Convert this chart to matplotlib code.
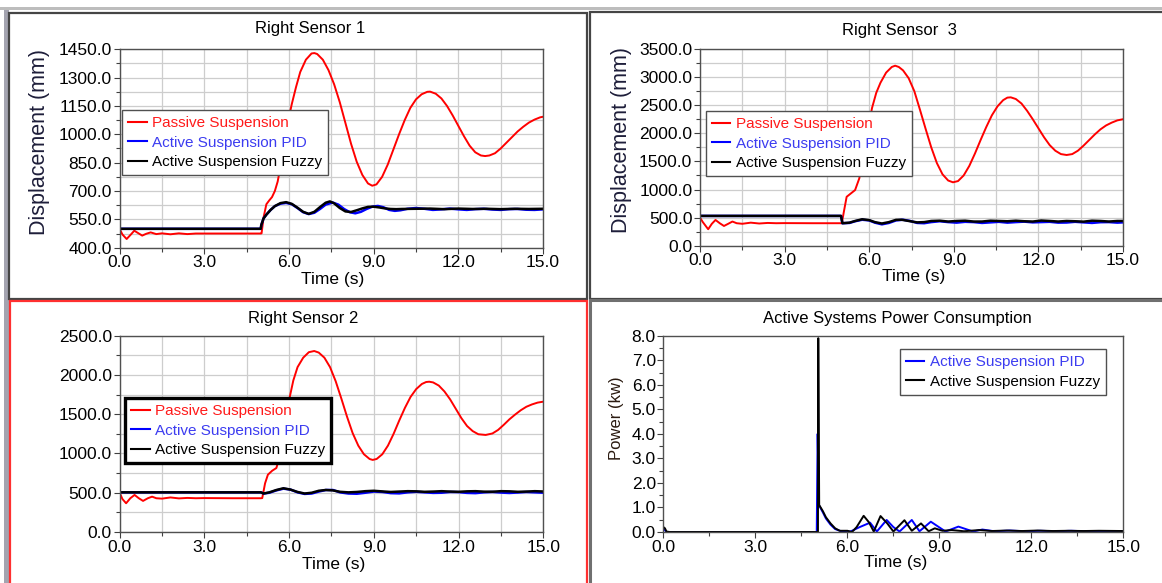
import matplotlib
matplotlib.use("Agg")
import matplotlib.pyplot as plt
from matplotlib.patches import Rectangle
from matplotlib.ticker import MultipleLocator, FormatStrFormatter

plt.rcParams["font.family"] = ["Liberation Sans", "DejaVu Sans"]

W, H = 1162, 583

# ---------------- data ----------------
# Right Sensor 1
s1_passive_t = [0.0, 0.1, 0.25, 0.4, 0.52, 0.65, 0.8, 0.95, 1.1, 1.3, 1.5, 1.8, 2.1, 2.4, 2.7,
                3.0, 4.0, 5.0, 5.03, 5.1, 5.2, 5.3, 5.4, 5.5, 5.6, 5.7, 5.8, 5.9, 6.0, 6.1,
                6.25, 6.4, 6.6, 6.8, 6.9, 7.0, 7.2, 7.4, 7.6, 7.8, 8.0, 8.2, 8.4, 8.6, 8.8,
                8.95, 9.1, 9.3, 9.5, 9.7, 9.9, 10.1, 10.3, 10.5, 10.7, 10.9, 11.0, 11.2,
                11.4, 11.6, 11.8, 12.0, 12.2, 12.4, 12.6, 12.8, 12.95, 13.1, 13.3, 13.5,
                13.7, 13.9, 14.1, 14.3, 14.5, 14.7, 14.9, 15.0]
s1_passive = [500, 470, 446, 470, 490, 478, 464, 474, 481, 472, 476, 471, 476, 472, 475,
              475, 475, 475, 476, 560, 630, 650, 668, 700, 750, 830, 920, 1010, 1090, 1160,
              1250, 1330, 1395, 1428, 1430, 1425, 1395, 1340, 1265, 1170, 1060, 950, 855, 785, 740,
              728, 735, 775, 840, 920, 1000, 1075, 1140, 1185, 1212, 1225, 1226, 1215,
              1190, 1150, 1100, 1045, 990, 940, 905, 888, 885, 888, 900, 925,
              955, 985, 1015, 1040, 1062, 1078, 1090, 1093]
s1_pid_t = [0.0, 5.0, 5.02, 5.1, 5.2, 5.35, 5.5, 5.7, 5.9, 6.1, 6.3, 6.5, 6.7, 6.9, 7.1, 7.3,
            7.55, 7.75, 7.95, 8.15, 8.35, 8.55, 8.75, 8.95, 9.15, 9.35, 9.55, 9.75, 9.95,
            10.2, 10.5, 10.8, 11.1, 11.4, 11.7, 12.0, 12.3, 12.6, 12.9, 13.2, 13.5, 13.8,
            14.1, 14.4, 14.7, 15.0]
s1_pid = [500, 500, 520, 555, 575, 600, 620, 633, 637, 630, 610, 588, 578, 585, 605, 628,
          639, 628, 605, 588, 582, 590, 605, 617, 621, 614, 600, 595, 598,
          606, 610, 606, 600, 603, 607, 603, 600, 604, 606, 602, 600, 604,
          605, 601, 600, 603]
s1_fuzzy_t = [0.0, 5.0, 5.02, 5.1, 5.2, 5.35, 5.5, 5.7, 5.9, 6.1, 6.3, 6.5, 6.7, 6.9, 7.1,
              7.3, 7.45, 7.6, 7.8, 8.0, 8.2, 8.4, 8.6, 8.8, 9.0, 9.2, 9.4, 9.6, 9.8, 10.0,
              10.5, 11.0, 11.5, 12.0, 12.5, 13.0, 13.5, 14.0, 14.5, 15.0]
s1_fuzzy = [500, 500, 520, 555, 575, 600, 620, 636, 641, 632, 612, 590, 579, 590, 615,
            638, 645, 635, 610, 592, 589, 598, 608, 616, 617, 613, 608, 605, 604, 605,
            606, 607, 604, 607, 605, 606, 604, 606, 605, 606]

# Right Sensor 3
s3_passive_t = [0.0, 0.1, 0.29, 0.42, 0.55, 0.7, 0.85, 1.0, 1.15, 1.3, 1.5, 1.8, 2.1, 2.4, 2.7,
                3.0, 4.0, 5.0, 5.03, 5.1, 5.2, 5.35, 5.5, 5.65, 5.8, 5.95, 6.1, 6.25, 6.4,
                6.6, 6.8, 6.92, 7.05, 7.2, 7.4, 7.6, 7.8, 8.0, 8.2, 8.4, 8.6, 8.8, 8.97,
                9.15, 9.35, 9.55, 9.75, 9.95, 10.15, 10.35, 10.55, 10.75, 10.9, 11.02, 11.2,
                11.4, 11.6, 11.8, 12.0, 12.2, 12.4, 12.6, 12.8, 13.0, 13.2, 13.4, 13.6, 13.8,
                14.0, 14.2, 14.4, 14.6, 14.8, 15.0]
s3_passive = [500, 420, 293, 390, 458, 400, 351, 390, 430, 400, 390, 410, 395, 405, 400,
              402, 400, 400, 402, 600, 870, 930, 990, 1200, 1650, 2050, 2450, 2720, 2900,
              3080, 3180, 3203, 3180, 3120, 2980, 2750, 2420, 2080, 1750, 1470, 1270, 1160, 1128,
              1150, 1250, 1420, 1640, 1880, 2110, 2320, 2480, 2590, 2635, 2640, 2610,
              2530, 2400, 2250, 2090, 1930, 1790, 1690, 1630, 1614, 1630, 1690, 1780, 1880,
              1980, 2070, 2140, 2190, 2230, 2250]
s3_pid_t = [0.0, 5.0, 5.05, 5.3, 5.5, 5.75, 6.0, 6.2, 6.45, 6.7, 6.95, 7.2, 7.45, 7.7, 7.95,
            8.2, 8.5, 8.8, 9.1, 9.4, 9.7, 10.0, 10.3, 10.6, 10.9, 11.2, 11.5, 11.8, 12.1,
            12.4, 12.7, 13.0, 13.3, 13.6, 13.9, 14.2, 14.5, 14.8, 15.0]
s3_pid = [530, 530, 400, 405, 435, 462, 450, 410, 380, 405, 450, 462, 440, 405, 400,
          420, 435, 420, 410, 425, 420, 405, 415, 425, 410, 420, 428, 415, 420,
          425, 410, 412, 425, 415, 405, 418, 420, 410, 415]
s3_fuzzy_t = [0.0, 5.0, 5.05, 5.3, 5.5, 5.75, 6.0, 6.2, 6.45, 6.7, 6.95, 7.15, 7.4, 7.7, 7.95,
              8.2, 8.5, 8.8, 9.1, 9.4, 9.7, 10.0, 10.3, 10.6, 10.9, 11.2, 11.5, 11.8, 12.1,
              12.4, 12.7, 13.0, 13.3, 13.6, 13.9, 14.2, 14.5, 14.8, 15.0]
s3_fuzzy = [530, 530, 400, 410, 440, 470, 455, 420, 395, 420, 460, 462, 440, 415, 420,
            440, 445, 430, 440, 445, 430, 430, 445, 440, 435, 445, 435, 430, 448,
            440, 430, 440, 435, 428, 445, 440, 430, 440, 440]

# Right Sensor 2
s2_passive_t = [0.0, 0.1, 0.23, 0.38, 0.53, 0.68, 0.83, 1.0, 1.15, 1.3, 1.5, 1.8, 2.1, 2.4, 2.7,
                3.0, 4.0, 5.0, 5.05, 5.15, 5.25, 5.4, 5.55, 5.7, 5.85, 6.0, 6.15, 6.3, 6.5,
                6.7, 6.89, 7.05, 7.25, 7.45, 7.65, 7.85, 8.05, 8.25, 8.45, 8.65, 8.85, 8.96,
                9.1, 9.3, 9.5, 9.7, 9.9, 10.1, 10.3, 10.5, 10.7, 10.85, 10.96, 11.1, 11.3,
                11.5, 11.7, 11.9, 12.1, 12.3, 12.5, 12.7, 12.96, 13.2, 13.4, 13.6, 13.8,
                14.0, 14.2, 14.4, 14.6, 14.8, 15.0]
s2_passive = [500, 420, 366, 430, 472, 430, 396, 430, 450, 430, 425, 440, 428, 434, 430,
              432, 430, 430, 432, 620, 730, 780, 815, 1000, 1350, 1680, 1930, 2100, 2220,
              2290, 2305, 2285, 2220, 2100, 1920, 1700, 1470, 1260, 1100, 990, 930, 918,
              930, 990, 1100, 1250, 1420, 1580, 1720, 1820, 1885, 1910, 1914, 1905, 1865,
              1790, 1690, 1570, 1450, 1350, 1285, 1245, 1236, 1255, 1300, 1365, 1435,
              1495, 1550, 1595, 1625, 1648, 1660]
s2_pid_t = [0.0, 5.0, 5.1, 5.3, 5.55, 5.8, 6.05, 6.3, 6.55, 6.8, 7.05, 7.3, 7.55, 7.8, 8.1,
            8.4, 8.7, 9.0, 9.3, 9.6, 9.9, 10.2, 10.5, 10.8, 11.1, 11.4, 11.7, 12.0, 12.3,
            12.6, 12.9, 13.2, 13.5, 13.8, 14.1, 14.4, 14.7, 15.0]
s2_pid = [505, 505, 490, 500, 530, 552, 540, 505, 485, 490, 515, 535, 535, 505, 490,
          487, 500, 515, 510, 495, 492, 505, 512, 505, 498, 500, 510, 508, 498,
          495, 505, 510, 502, 497, 503, 510, 505, 500]
s2_fuzzy_t = [0.0, 5.0, 5.1, 5.3, 5.55, 5.8, 6.05, 6.3, 6.55, 6.8, 7.05, 7.3, 7.55, 7.8, 8.1,
              8.4, 8.7, 9.0, 9.3, 9.6, 9.9, 10.2, 10.5, 10.8, 11.1, 11.4, 11.7, 12.0, 12.3,
              12.6, 12.9, 13.2, 13.5, 13.8, 14.1, 14.4, 14.7, 15.0]
s2_fuzzy = [505, 505, 490, 505, 535, 557, 540, 510, 490, 500, 525, 535, 530, 512, 505,
            510, 520, 525, 517, 510, 515, 520, 518, 512, 515, 520, 515, 512, 518,
            520, 514, 513, 520, 518, 512, 515, 520, 516]

# Power consumption (kw)
pw_pid_t = [0.0, 0.1, 5.0, 5.03, 5.07, 5.2, 5.3, 5.45, 5.6, 5.8, 6.1, 6.4, 6.74, 6.96, 7.28,
            7.5, 7.7, 8.1, 8.35, 8.72, 9.2, 9.62, 10.1, 10.4, 10.8, 11.3, 11.8, 12.3, 12.8,
            13.3, 13.8, 14.3, 15.0]
pw_pid = [0.15, 0.0, 0.0, 4.0, 1.1, 0.8, 0.55, 0.3, 0.12, 0.03, 0.02, 0.2, 0.38, 0.02, 0.49,
          0.2, 0.02, 0.49, 0.03, 0.42, 0.02, 0.22, 0.02, 0.1, 0.03, 0.06, 0.03, 0.05, 0.03,
          0.05, 0.03, 0.04, 0.03]
pw_fuzzy_t = [0.0, 0.05, 0.1, 0.2, 5.0, 5.04, 5.05, 5.08, 5.2, 5.3, 5.45, 5.6, 5.75, 6.0,
              6.15, 6.3, 6.53, 6.7, 6.86, 7.08, 7.3, 7.5, 7.86, 8.1, 8.4, 8.65, 8.85, 9.1,
              9.4, 9.8, 10.3, 10.7, 11.2, 11.7, 12.2, 12.7, 13.2, 13.7, 14.2, 15.0]
pw_fuzzy = [0.2, 0.15, 0.02, 0.0, 0.0, 0.0, 7.9, 1.1, 0.85, 0.6, 0.35, 0.15, 0.05, 0.05,
            0.0, 0.2, 0.66, 0.4, 0.02, 0.65, 0.35, 0.02, 0.48, 0.05, 0.35, 0.03, 0.15, 0.05,
            0.08, 0.03, 0.08, 0.04, 0.06, 0.04, 0.06, 0.04, 0.05, 0.04, 0.05, 0.04]

labels = ["Passive Suspension", "Active Suspension PID", "Active Suspension Fuzzy"]
colors = ["#ff0000", "#0000ff", "#000000"]
text_colors = ["#ff1a1a", "#3c3cf0", "#000000"]

fig = plt.figure(figsize=(W / 100, H / 100), dpi=100)


def px_rect(l, t, r, b):
    return [l / W, 1 - b / H, (r - l) / W, (b - t) / H]


def fig_box(l, t, r, b, color, lw):
    fig.add_artist(Rectangle((l / W, 1 - b / H), (r - l) / W, (b - t) / H,
                             transform=fig.transFigure, fill=False,
                             edgecolor=color, linewidth=lw))


def fig_text(x, y, s, **kw):
    fig.text(x / W, 1 - y / H, s, ha="center", va="center", **kw)


# window chrome
fig.add_artist(Rectangle((0, 1 - 10 / H), 1, 3 / H, transform=fig.transFigure,
                         color="#bdbdbd", lw=0))
fig.add_artist(Rectangle((4 / W, 0), 5 / W, 1 - 10 / H, transform=fig.transFigure,
                         color="#a4a4b0", lw=0))
fig_box(9, 12.5, 587, 298.5, "#454545", 1.6)
fig_box(589.5, 12.5, 1170, 299, "#454545", 1.6)
fig_box(589.5, 299.5, 1170, 600, "#707070", 2.2)
fig_box(9.5, 300.5, 587, 600, "#ff3030", 1.6)


def style_axes(ax, ymin, ymax, ymaj, grid=True):
    ax.set_xlim(0, 15)
    ax.set_ylim(ymin, ymax)
    ax.xaxis.set_major_locator(MultipleLocator(3))
    ax.xaxis.set_minor_locator(MultipleLocator(1.5))
    ax.yaxis.set_major_locator(MultipleLocator(ymaj, offset=ymin))
    ax.yaxis.set_minor_locator(MultipleLocator(ymaj / 2, offset=ymin))
    ax.xaxis.set_major_formatter(FormatStrFormatter("%.1f"))
    ax.yaxis.set_major_formatter(FormatStrFormatter("%.1f"))
    ax.tick_params(which="both", direction="out", color="#404040", labelsize=12.5)
    ax.tick_params(which="major", length=4, width=0.8, pad=1.5)
    ax.tick_params(which="minor", length=3, width=0.8)
    for sp in ax.spines.values():
        sp.set_color("#505050")
        sp.set_linewidth(1.0)
    if grid:
        ax.grid(which="both", color="#cdcdcd", linewidth=0.9)
        ax.set_axisbelow(True)


def add_legend(ax, handles, labs, tcols, x0, y0, frame_lw=1.0, frame_col="#505050"):
    leg = ax.legend(handles, labs, loc="upper left", bbox_to_anchor=(x0, y0),
                    borderaxespad=0, fontsize=11, handlelength=1.2, handletextpad=0.35,
                    labelspacing=0.36, borderpad=0.4, fancybox=False, framealpha=1,
                    edgecolor=frame_col)
    leg.get_frame().set_linewidth(frame_lw)
    for line in leg.get_lines():
        line.set_linewidth(1.5)
    for txt, c in zip(leg.get_texts(), tcols):
        txt.set_color(c)
    return leg


def sensor_panel(rect, ymin, ymax, ymaj, pt, pv, bt, bv, ft, fv, legpos, frame_lw=1.0,
                 frame_col="#505050"):
    ax = fig.add_axes(px_rect(*rect))
    h1, = ax.plot(pt, pv, color=colors[0], lw=1.4)
    h2, = ax.plot(bt, bv, color=colors[1], lw=1.8)
    h3, = ax.plot(ft, fv, color=colors[2], lw=1.8)
    style_axes(ax, ymin, ymax, ymaj)
    add_legend(ax, [h1, h2, h3], labels, text_colors, *legpos, frame_lw=frame_lw,
               frame_col=frame_col)
    return ax


ax1 = sensor_panel((119.6, 49.3, 543, 247.7), 400, 1450, 150, s1_passive_t, s1_passive,
                   s1_pid_t, s1_pid, s1_fuzzy_t, s1_fuzzy, (0.006, 0.694))
ax2 = sensor_panel((700, 49, 1123, 245.7), 0, 3500, 500, s3_passive_t, s3_passive,
                   s3_pid_t, s3_pid, s3_fuzzy_t, s3_fuzzy, (0.014, 0.685))
ax3 = sensor_panel((119.6, 335.7, 543.3, 532), 0, 2500, 500, s2_passive_t, s2_passive,
                   s2_pid_t, s2_pid, s2_fuzzy_t, s2_fuzzy, (0.013, 0.683),
                   frame_lw=2.4, frame_col="#000000")

ax4 = fig.add_axes(px_rect(663.4, 335.7, 1123.4, 532))
g1, = ax4.plot(pw_pid_t, pw_pid, color=colors[1], lw=1.4)
g2, = ax4.plot(pw_fuzzy_t, pw_fuzzy, color=colors[2], lw=1.4)
style_axes(ax4, 0, 8, 1.0, grid=False)
add_legend(ax4, [g1, g2], labels[1:], text_colors[1:], 0.514, 0.932)

# titles and axis labels
fig_text(310, 29, "Right Sensor 1", fontsize=12)
fig_text(899, 31, "Right Sensor  3", fontsize=12)
fig_text(303, 319, "Right Sensor 2", fontsize=12)
fig_text(897, 318, "Active Systems Power Consumption", fontsize=12)
for x, y in [(333, 280), (914, 277), (334, 564), (896, 562)]:
    fig_text(x, y, "Time (s)", fontsize=12.5)
fig_text(40, 142, "Displacement (mm)", fontsize=15.5, rotation=90, color="#1e1e3a")
fig_text(622, 140, "Displacement (mm)", fontsize=15.5, rotation=90, color="#1e1e3a")
fig_text(617, 418, "Power (kw)", fontsize=12, rotation=90, color="#2a1a10")

fig.savefig("out.png", dpi=100)
